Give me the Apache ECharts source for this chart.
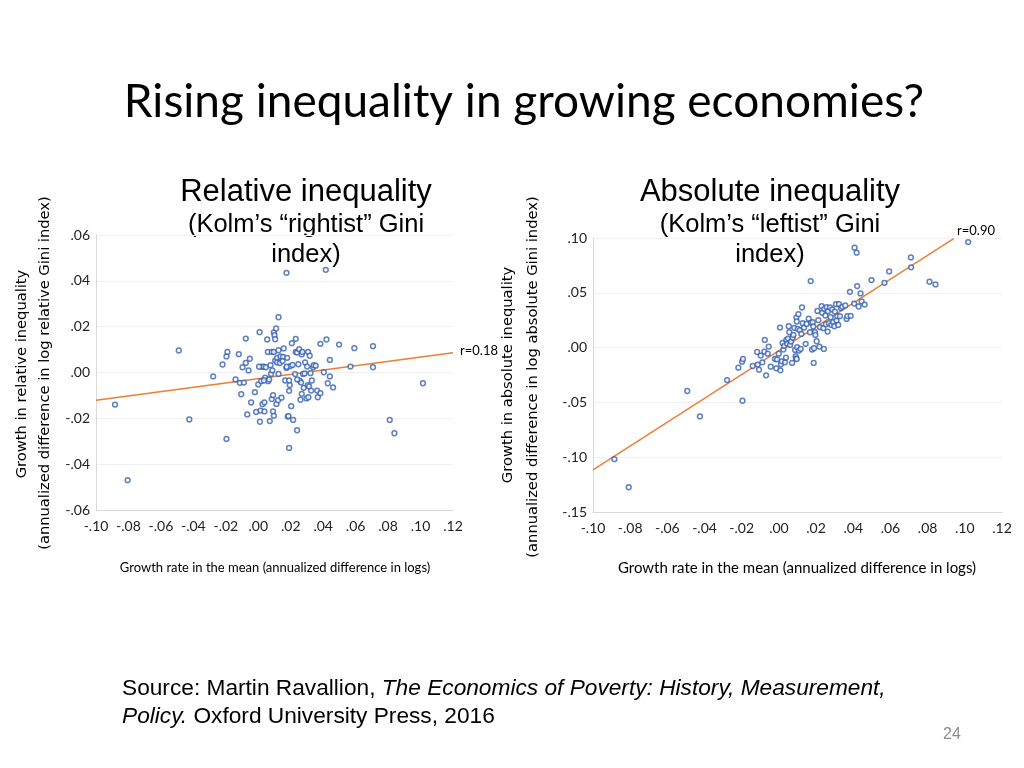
<!DOCTYPE html>
<html>
<head>
<meta charset="utf-8">
<script src="https://cdn.jsdelivr.net/npm/echarts@6/dist/echarts.min.js"></script>
<style>
html,body{margin:0;padding:0;background:#fff;}
#c{width:1024px;height:768px;}
</style>
</head>
<body>
<div id="c"></div>
<script>
// ---- Data ----
var xTicksLeft = [-0.10, 0.12, 0.02];   // min, max, interval
var yTicksLeft = [-0.06, 0.06, 0.02];
var xTicksRight = [-0.10, 0.12, 0.02];
var yTicksRight = [-0.15, 0.10, 0.05];

var relativePoints = [
[-0.0883,-0.014],[-0.0805,-0.047],[-0.049,0.0096],[-0.0425,-0.0205],[-0.0278,-0.0017],
[-0.0196,-0.029],[-0.022,0.0035],[-0.0196,0.007],[-0.019,0.009],[-0.014,-0.003],
[-0.012,0.008],[-0.0113,-0.0045],[-0.0105,-0.0095],[-0.0097,0.0023],[-0.0089,-0.0044],
[-0.0077,0.0148],[-0.0077,0.0042],[-0.0068,-0.0183],[-0.006,0.0009],[-0.0052,0.006],
[-0.0044,-0.0131],[-0.0021,-0.0086],[-0.0013,-0.0172],[0.0,-0.0052],[0.0008,0.0176],
[0.001,-0.0215],[0.0014,-0.0166],[0.0018,-0.0038],[0.0022,0.0025],[0.0026,-0.0138],
[0.0034,0.0025],[0.0038,-0.013],[0.0038,-0.017],[0.0042,-0.0022],[0.0047,0.0023],
[0.0055,0.0144],[0.0059,0.009],[0.0061,-0.0038],[0.0067,-0.003],[0.0071,-0.0212],
[0.0075,0.0032],[0.0083,0.009],[0.0079,-0.0006],[0.0083,-0.0116],[0.0087,0.0009],
[0.0091,-0.0099],[0.0091,-0.017],[0.0096,0.0175],[0.0096,0.009],[0.0096,-0.0189],
[0.01,0.0163],[0.0104,0.0145],[0.0104,0.0052],[0.011,0.0192],[0.0112,-0.0137],
[0.0116,0.0064],[0.0116,0.0044],[0.0122,-0.0121],[0.0125,0.0241],[0.0125,0.0097],
[0.0125,-0.0006],[0.0133,0.0041],[0.0137,0.007],[0.0143,-0.011],[0.0153,0.0068],
[0.0157,0.0105],[0.0166,-0.0035],[0.0174,0.0435],[0.0174,0.002],[0.0178,0.0064],
[0.0182,-0.0192],[0.0186,-0.019],[0.019,-0.0035],[0.019,-0.008],[0.019,-0.0329],
[0.0194,-0.0055],[0.0198,0.0028],[0.0203,-0.0147],[0.0207,0.0128],[0.0211,0.0033],
[0.0215,-0.0207],[0.0227,-0.0007],[0.0231,0.0147],[0.0231,0.009],[0.0239,-0.0252],
[0.0239,0.0087],[0.0247,0.0036],[0.0252,0.0102],[0.0256,-0.0036],[0.026,-0.0119],
[0.0264,-0.0044],[0.0268,-0.0093],[0.0268,0.0079],[0.0272,0.009],[0.0276,-0.0006],
[0.028,-0.0067],[0.0285,-0.0004],[0.0289,0.0044],[0.0297,-0.0113],[0.0301,0.0026],
[0.0305,-0.0055],[0.0307,0.009],[0.0309,-0.0108],[0.0313,-0.0061],[0.0317,0.0073],
[0.0322,-0.0003],[0.0326,-0.0079],[0.033,-0.0035],[0.0338,0.0023],[0.0342,0.0032],
[0.0354,0.003],[0.0363,-0.0079],[0.0367,-0.0108],[0.0383,0.0125],[0.0383,-0.009],
[0.0404,0.0001],[0.0416,0.0448],[0.042,0.0144],[0.0428,-0.0047],[0.0441,0.0055],
[0.0441,-0.0017],[0.0461,-0.0065],[0.0498,0.0122],[0.0568,0.0026],[0.0592,0.0106],
[0.0707,0.0115],[0.0707,0.0023],[0.081,-0.0207],[0.0839,-0.0265],[0.1015,-0.0047],
[0.0005,0.0025],[0.0150,0.0050],[0.0175,0.0025],[0.0240,-0.0030],[0.0035,-0.0035]
];

var absolutePoints = [
[-0.0885,-0.1018],[-0.0808,-0.1274],[-0.0493,-0.0396],[-0.0425,-0.0628],[-0.0279,-0.0296],
[-0.0218,-0.0183],[-0.0198,-0.0128],[-0.0193,-0.0104],[-0.0196,-0.0485],[-0.0141,-0.0168],
[-0.0117,-0.004],[-0.0114,-0.0155],[-0.0107,-0.0201],[-0.0098,-0.0073],[-0.0089,-0.0134],
[-0.0078,-0.0037],[-0.0076,0.007],[-0.0069,-0.0253],[-0.006,-0.0055],[-0.0055,0.0009],
[-0.0044,-0.0174],[-0.0021,-0.0104],[-0.0014,-0.0189],[-0.0001,-0.0055],[0.0006,0.0183],
[0.0008,-0.0207],[0.0011,-0.0152],[0.0015,-0.0125],[0.002,0.0043],[0.0024,-0.0018],
[0.0029,0.0015],[0.0033,-0.0134],[0.0038,-0.0091],[0.004,0.007],[0.0045,0.0034],
[0.0049,0.0082],[0.0053,0.0195],[0.0056,0.014],[0.006,0.0024],[0.0065,0.0055],
[0.0071,-0.014],[0.0074,0.0091],[0.0078,0.0116],[0.0083,0.018],[0.0087,-0.0021],
[0.009,-0.0079],[0.0092,-0.0098],[0.0094,0.0274],[0.0096,0.0238],[0.0098,0.0003],
[0.0101,0.0171],[0.0105,0.0305],[0.0108,-0.0027],[0.0112,0.0159],[0.0117,-0.0012],
[0.0121,0.0125],[0.0124,0.0366],[0.0128,0.0223],[0.0135,0.0183],[0.0144,0.0034],
[0.0149,0.0216],[0.016,0.0265],[0.0167,0.014],[0.0171,0.0607],[0.0174,0.0226],
[0.0178,-0.0018],[0.0182,0.0232],[0.0185,0.0192],[0.0187,-0.014],[0.0189,-0.0006],
[0.0194,0.014],[0.0196,0.0116],[0.0203,0.0058],[0.0207,0.0335],[0.0212,0.025],
[0.0218,0.0009],[0.0221,0.0186],[0.023,0.0378],[0.0233,0.0317],[0.0239,0.0177],
[0.0242,-0.0012],[0.0244,0.0354],[0.025,0.0293],[0.0253,0.0213],[0.0257,0.0369],
[0.0262,0.0146],[0.0264,0.0332],[0.0269,0.0223],[0.0275,0.0366],[0.0278,0.0277],
[0.0282,0.0207],[0.0287,0.0348],[0.0292,0.0232],[0.0298,0.0195],[0.0301,0.0329],
[0.0307,0.0396],[0.031,0.0247],[0.0314,0.0287],[0.0319,0.0207],[0.0323,0.0396],
[0.0328,0.0287],[0.0334,0.036],[0.0341,0.0372],[0.0357,0.0384],[0.0364,0.0262],
[0.0368,0.0287],[0.0382,0.0509],[0.0386,0.029],[0.0405,0.0402],[0.0407,0.0912],
[0.0418,0.0866],[0.0421,0.0561],[0.0429,0.0375],[0.0439,0.0494],[0.0445,0.0421],
[0.0461,0.0393],[0.0498,0.0616],[0.0568,0.0591],[0.0593,0.0695],[0.071,0.0823],
[0.0711,0.0732],[0.081,0.0601],[0.0842,0.0576],[0.1018,0.0963],[-0.001,-0.0107],
[0.0096,-0.0104]
];

var fitLineLeft = [[-0.10,-0.0121],[0.12,0.0086]];
var fitLineRight = [[-0.10,-0.1116],[0.094,0.0994]];
var rLabels = ['r=0.18', 'r=0.90'];

// ---- Chart ----
var fmt = function (v) {
  var s = Math.abs(v).toFixed(2).replace(/^0/, '');
  return (v < -1e-9 ? '-' : '') + s;
};
var tickFont = 'Lato, "Open Sans", sans-serif';
function xAx(grid, t) {
  return {
    type: 'value', gridIndex: grid, min: t[0], max: t[1], interval: t[2],
    axisLine: {show: true, onZero: false, lineStyle: {color: '#d9d9d9', width: 1}},
    axisTick: {show: false},
    splitLine: {show: false},
    axisLabel: {formatter: fmt, color: '#222', fontSize: 14, fontFamily: tickFont, margin: 9}
  };
}
function yAx(grid, t) {
  return {
    type: 'value', gridIndex: grid, min: t[0], max: t[1], interval: t[2],
    axisLine: {show: true, onZero: false, lineStyle: {color: '#d9d9d9', width: 1}},
    axisTick: {show: false},
    splitLine: {show: true, lineStyle: {color: '#f0f0f0', width: 1}},
    axisLabel: {formatter: fmt, color: '#222', fontSize: 14, fontFamily: tickFont, margin: 6}
  };
}
var scatterStyle = {color: '#ffffff', borderColor: '#3762b0', borderWidth: 1.5};
var lineStyle = {color: '#ED7D31', width: 1.4};

var chart = echarts.init(document.getElementById('c'), null, {renderer: 'canvas'});
var sansA = '"Liberation Sans", Arial, sans-serif';
var axTitleFont = 'Lato, "Open Sans", sans-serif';
var yTitleFont = '"DejaVu Sans", sans-serif';
chart.setOption({
  backgroundColor: '#ffffff',
  animation: false,
  grid: [
    {left: 96, top: 235, width: 357, height: 275},
    {left: 593, top: 238, width: 409, height: 274}
  ],
  xAxis: [xAx(0, xTicksLeft), xAx(1, xTicksRight)],
  yAxis: [yAx(0, yTicksLeft), yAx(1, yTicksRight)],
  series: [
    {type: 'line', xAxisIndex: 0, yAxisIndex: 0, data: fitLineLeft, showSymbol: false, lineStyle: lineStyle, z: 2, silent: true},
    {type: 'scatter', xAxisIndex: 0, yAxisIndex: 0, data: relativePoints, symbol: 'circle', symbolSize: 4.8, itemStyle: scatterStyle, z: 3},
    {type: 'line', xAxisIndex: 1, yAxisIndex: 1, data: fitLineRight, showSymbol: false, lineStyle: lineStyle, z: 2, silent: true},
    {type: 'scatter', xAxisIndex: 1, yAxisIndex: 1, data: absolutePoints, symbol: 'circle', symbolSize: 4.8, itemStyle: scatterStyle, z: 3}
  ],
  graphic: [
    {type: 'text', x: 524, y: 102, style: {text: 'Rising inequality in growing economies?', font: '46px Lato, "Open Sans", sans-serif', fill: '#000', align: 'center', verticalAlign: 'middle'}},
    {type: 'text', x: 306, y: 192, style: {text: 'Relative inequality', font: '31px ' + sansA, fill: '#000', align: 'center', verticalAlign: 'middle'}},
    {type: 'text', x: 306, y: 225, style: {text: '(Kolm\u2019s \u201crightist\u201d Gini', font: '25.5px ' + sansA, fill: '#000', align: 'center', verticalAlign: 'middle'}},
    {type: 'text', x: 306, y: 255, style: {text: 'index)', font: '25.5px ' + sansA, fill: '#000', align: 'center', verticalAlign: 'middle'}},
    {type: 'text', x: 770, y: 192, style: {text: 'Absolute inequality', font: '31px ' + sansA, fill: '#000', align: 'center', verticalAlign: 'middle'}},
    {type: 'text', x: 770, y: 225, style: {text: '(Kolm\u2019s \u201cleftist\u201d Gini', font: '25.5px ' + sansA, fill: '#000', align: 'center', verticalAlign: 'middle'}},
    {type: 'text', x: 770, y: 255, style: {text: 'index)', font: '25.5px ' + sansA, fill: '#000', align: 'center', verticalAlign: 'middle'}},
    {type: 'text', x: 22, y: 374, rotation: Math.PI / 2, style: {text: 'Growth in relative inequality', font: '14.7px ' + yTitleFont, fill: '#000', align: 'center', verticalAlign: 'middle'}},
    {type: 'text', x: 45, y: 373, rotation: Math.PI / 2, style: {text: '(annualized difference in log relative Gini index)', font: '14.7px ' + yTitleFont, fill: '#000', align: 'center', verticalAlign: 'middle'}},
    {type: 'text', x: 508, y: 375, rotation: Math.PI / 2, style: {text: 'Growth in absolute inequality', font: '14.7px ' + yTitleFont, fill: '#000', align: 'center', verticalAlign: 'middle'}},
    {type: 'text', x: 533, y: 377, rotation: Math.PI / 2, style: {text: '(annualized difference in log absolute Gini index)', font: '14.7px ' + yTitleFont, fill: '#000', align: 'center', verticalAlign: 'middle'}},
    {type: 'text', x: 275, y: 568, style: {text: 'Growth rate in the mean (annualized difference in logs)', font: '13px ' + axTitleFont, fill: '#000', align: 'center', verticalAlign: 'middle'}},
    {type: 'text', x: 797, y: 568, style: {text: 'Growth rate in the mean (annualized difference in logs)', font: '15px ' + axTitleFont, fill: '#000', align: 'center', verticalAlign: 'middle'}},
    {type: 'text', x: 460, y: 351, style: {text: rLabels[0], font: '13px ' + axTitleFont, fill: '#000', align: 'left', verticalAlign: 'middle'}},
    {type: 'text', x: 957, y: 231, style: {text: rLabels[1], font: '13px ' + axTitleFont, fill: '#000', align: 'left', verticalAlign: 'middle'}},
    {type: 'text', x: 122, y: 675, style: {
      text: '{n|Source: Martin Ravallion, }{i|The Economics of Poverty: History, Measurement,}\n{i|Policy.}{n| Oxford University Press, 2016}',
      rich: {
        n: {font: '22.7px ' + sansA, fill: '#000', lineHeight: 28},
        i: {font: 'italic 22.7px ' + sansA, fill: '#000', lineHeight: 28}
      }
    }},
    {type: 'text', x: 952, y: 735, style: {text: '24', font: '16px ' + sansA, fill: '#8c8c8c', align: 'center', verticalAlign: 'middle'}}
  ]
});
</script>
</body>
</html>
